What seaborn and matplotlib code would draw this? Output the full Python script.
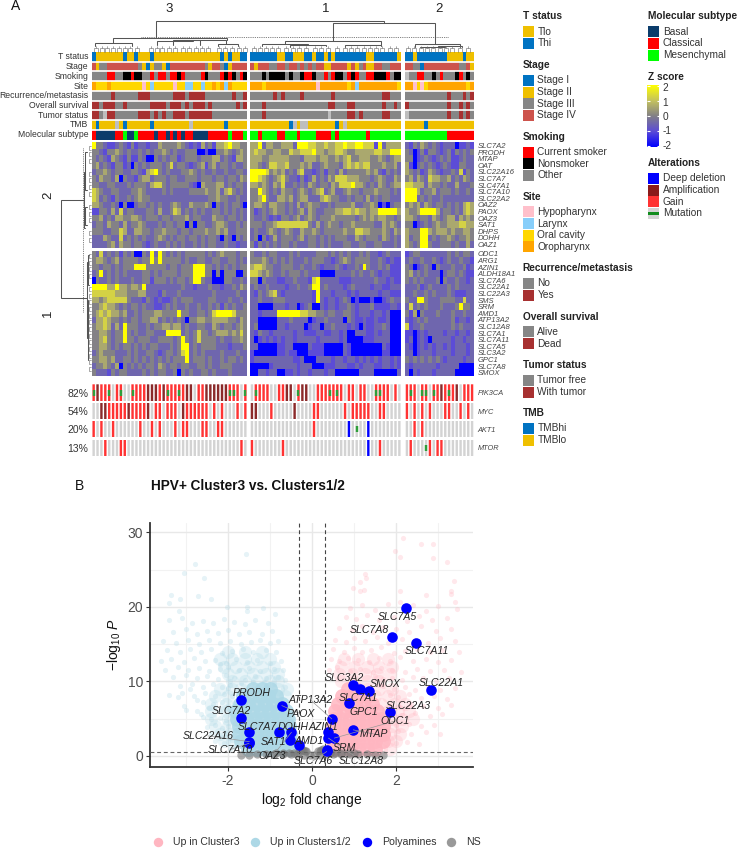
import numpy as np
import pandas as pd
import seaborn as sns
import matplotlib.pyplot as plt
from matplotlib.colors import LinearSegmentedColormap, ListedColormap
from matplotlib.patches import Rectangle

sns.set_style("white")
plt.rcParams["font.family"] = ["Liberation Sans", "DejaVu Sans"]
plt.rcParams["mathtext.fontset"] = "custom"
plt.rcParams["mathtext.rm"] = "Liberation Sans"
plt.rcParams["mathtext.it"] = "Liberation Sans:italic"
plt.rcParams["axes.unicode_minus"] = False

W, H = 739, 849

# Sample annotations, run length coded per cluster (3, 1, 2)
strip_names = ["T status", "Stage", "Smoking", "Site", "Recurrence/metastasis",
               "Overall survival", "Tumor status", "TMB", "Molecular subtype"]
t_status = ["h1 l7 h1 l2 h1 l3 h1 l17 h1 l1 h1 l2 h2",
            "h7 l2 h2 l3 h2 l1 h2 l1 h1 l1 h8 l2 h6 l1",
            "h2 l1 h8 l4 h1 l2"]
stage = ["D1 B1 C2 D8 C1 B1 A1 B1 C2 B1 A1 D9 C1 B1 D2 C1 A1 B1 D4",
         "D1 B1 D3 C2 D2 C1 D2 C1 D1 C1 D1 C1 D2 B2 D4 B1 D1 B1 C1 D1 B2 D2 C2 D3",
         "D2 C2 A1 D9 C2 D1 B1"]
smoking = ["o4 c2 o2 k2 c1 k2 o2 c1 o1 c2 o1 c2 k1 c1 o4 c1 k1 o3 c1 k1 c1 k1 o1 c1 k1",
           "o3 k1 o1 k4 o1 k1 o2 k1 c2 k1 o2 c1 o1 c1 k2 o1 c1 k1 c1 o2 c2 k3 c1 o1 k2",
           "u1 o2 c2 o2 k1 o1 c1 o3 k1 c1 o1 k1 o1"]
site = ["r1 g3 r1 g8 p1 g1 s1 g5 p1 g2 s2 g2 s1 g2 r1 g1 r1 s1 r1 g4",
        "r3 g1 r13 p1 r7 g1 r1 s1 r10 g1",
        "r2 p1 g1 p1 g1 r10 g1 r1"]
recurrence = ["n5 y1 n6 y3 n6 y3 n1 y4 n7 y1 n2 y1",
              "n6 y1 n1 y1 n4 y1 n7 y1 n12 y2 n3",
              "n11 y1 n3 y1 n1 y1"]
survival = ["y2 n1 y3 n2 y1 n6 y4 n1 y3 n1 y1 n1 y3 n1 y1 n6 y1 n1 y1",
            "n3 y1 n16 y2 n3 y2 n7 y1 n2 y1 n1",
            "y1 n10 y1 n2 y1 n1 y1 n1"]
tumor = ["y2 n1 u1 y2 n6 y3 n1 y1 n1 y1 n2 y3 n1 y6 n9",
         "n3 y1 n16 u1 n4 y2 n1 y1 n5 y2 n3",
         "u1 n10 y1 n2 y1 n1 y1 n1"]
tmb = ["l1 h1 l4 u1 l1 h1 l6 h1 l9 u1 l8 h1 l5",
       "l10 h1 u1 l1 u2 l7 h1 l1 u1 l14",
       "l5 h1 l12"]
subtype = ["c1 b5 c2 m1 b2 m1 c4 b1 c2 b1 c1 b1 c1 b1 c2 b4 c5 m1 c3 m1",
           "m2 c1 m4 c2 m3 c1 m4 c4 m1 c1 m7 c1 m8",
           "m11 c7"]
strips = [t_status, stage, smoking, site, recurrence, survival, tumor, tmb, subtype]

palette = {"l": "#EFC000", "h": "#0073C2", "A": "#0073C2", "B": "#EFC000", "C": "#868686",
           "D": "#CD534C", "c": "#FF0000", "k": "#000000", "o": "#868686", "p": "#FFC0CB",
           "s": "#87CEFA", "g": "#FFD700", "r": "#FFA500", "n": "#868686", "y": "#A73030",
           "u": "#BEBEBE", "b": "#0B3C6B", "m": "#00FF00"}

# Expression, one character per sample: 0 blue ... 3 grey ... 6 yellow
z_levels = [-2, -1.0, -0.5, 0, 0.6, 1.25, 2]
upper_genes = ["SLC7A2", "PRODH", "MTAP", "OAT", "SLC22A16", "SLC7A7", "SLC47A1", "SLC7A10",
               "SLC22A2", "OAZ2", "PAOX", "OAZ3", "SAT1", "DHPS", "DOHH", "OAZ1"]
lower_genes = ["ODC1", "ARG1", "AZIN1", "ALDH18A1", "SLC7A6", "SLC22A1", "SLC22A3", "SMS", "SRM",
               "AMD1", "ATP13A2", "SLC12A8", "SLC7A1", "SLC7A11", "SLC7A5", "SLC3A2", "GPC1",
               "SLC7A8", "SMOX"]

c3_upper = ["6332112321 3122122433 3343212142 3144564433",
            "3321334323 2232323343 2322333001 0033432343",
            "3232143213 1132003232 3312333233 3442321443",
            "3423213312 0323233323 5233212341 3423323223",
            "2334323322 3321456323 2223343232 2322322332",
            "3243324032 2134423332 3322333233 3233233243",
            "3322332223 2333245532 3333321043 3344232332",
            "5432233222 3343222232 3222233334 3342453232",
            "5423213223 2343322222 2222222222 3343322322",
            "4432232030 0233232322 3432243334 3032323320",
            "1133242523 3222332422 3542323232 2332323232",
            "3342324433 4432333233 2333423322 2433233232",
            "2332433242 3343222323 3233030332 2344322323",
            "3332233542 2443323343 3323323334 3343422333",
            "2224322523 2323223432 3233233232 3320320323",
            "2222342433 2332123223 2323223232 3322322122"]
c1_upper = ["4462443344 4266655445 4455655665 551624444",
            "4544334433 5445556443 4455433444 445544666",
            "4443344444 3332444344 3343453344 433432344",
            "4432355445 3334342234 3332454545 533343342",
            "6666534342 3245221231 3324233333 434213232",
            "6654323453 2213124232 4355544433 323432243",
            "4434324352 2323243233 2435556443 232432344",
            "3364323243 3234323452 3422343323 334333232",
            "3346322443 4234422245 4332232332 423233222",
            "3443244332 3242343322 3233334223 343010233",
            "3123234332 3234243223 3344554544 344666664",
            "3223212133 2342343233 3433333234 343443323",
            "3332334555 5555532423 4332334333 332243432",
            "2322343234 3224334323 3333433554 433343243",
            "2303124233 3234233232 3233322432 333243232",
            "3132323233 2322233232 3222332233 223322232"]
c2_upper = ["2132432321 22201121",
            "3201313321 23132323",
            "3301232123 23112322",
            "4102323212 32113322",
            "4323124321 22325132",
            "3424325443 34232432",
            "5544424332 32242223",
            "6664233423 33232232",
            "6662323223 22222222",
            "3434243233 23232454",
            "4334666642 33232454",
            "4432332432 34424343",
            "3301232343 34445544",
            "4333664344 43433443",
            "4233662323 34323343",
            "4323663223 33232242"]
c3_lower = ["3252323132 3003262632 3232333332 3234333233",
            "3443234233 3323363633 3332322332 2332233232",
            "3323323233 3666333332 3323336663 3232323233",
            "2362323232 2223323233 3323336663 3030333003",
            "0322323222 3223313332 3233236632 2000332232",
            "6666446443 4436222222 2223221222 3221223243",
            "5555554443 3344222132 2232222222 2322222322",
            "4434555553 2221321211 2323332222 3322232232",
            "3345443232 3323221123 2322322322 3231323223",
            "3454544342 2323334433 3363322332 3566665333",
            "2445433232 3323344232 3232033443 3444433243",
            "3445424263 3322323344 3442322332 2432332343",
            "3344323363 2322332226 6662323533 2344434353",
            "3345323363 3233322333 3236323533 3323223343",
            "3344323233 2323233222 3236623233 3322212223",
            "2343332223 2322332123 3235623232 2223222322",
            "3344342233 2323232323 2333623332 3223233232",
            "2334324032 3232332432 3323322332 3223332222",
            "3222132332 2223232332 2303232233 2322232222"]
c1_lower = ["3223233222 3232222333 2323232232 322123222",
            "3334323232 3222323332 2123432333 322321211",
            "4554332233 3223223212 2232122326 322323111",
            "5543432232 3332322200 0022223232 232122111",
            "3303222112 2322215622 2221112222 223221211",
            "2322322221 2232236623 2222123222 212211222",
            "2132345212 2222221622 2122212122 222122111",
            "2232223332 2222221621 2212320100 010012322",
            "2200002221 2201230021 2212232122 231111221",
            "2212222666 6665544332 3322332122 212212000",
            "2200000222 3222201223 2222032112 112112000",
            "2300000221 2222012202 2322212102 112232000",
            "2132212222 2122111221 1221200222 112122000",
            "2012121212 2122222122 2221200001 112222000",
            "2200000112 2000021110 0000210000 000021000",
            "1000000112 1100011110 0000210000 000011000",
            "1222222222 2112000222 2122122121 212122121",
            "0000012222 2212220001 1122211212 221122121",
            "0022122001 1212212221 2200000022 220000002"]
c2_lower = ["1233222222 23232332",
            "2322322321 23223221",
            "3201232032 22322312",
            "3423232220 23323211",
            "3232322230 32232212",
            "2223123222 23232222",
            "2232232322 23211122",
            "3226632223 33322522",
            "2523232223 22236332",
            "3140322232 22322322",
            "2123232222 22312212",
            "5122322222 22323222",
            "1101212222 12212212",
            "1201210222 22122122",
            "2101212122 12122212",
            "2201222122 22122212",
            "3232323232 12222122",
            "2122222212 22220000",
            "2021222122 22200000"]

# Alterations: . none, g gain, a amplification, d deep deletion, m gain+mutation, n mutation
onco_genes = ["PIK3CA", "MYC", "AKT1", "MTOR"]
onco_pct = ["82%", "54%", "20%", "13%"]
pik3ca = ["maggm.gm..mgggaaagamggmgaa.ggaaaaaammg.m",
          ".mggg..ggaa.maa..gggmgmg.gg.gg..mmgg.g.",
          "gmg.mm.mgagmga.ggg"]
myc = ["..aagggggaggggа.gg.ggg.agggggg.g.g...g.g",
       "aa...g.....a....gg......g.ggggg..gg....",
       "g.g.g.g...gg..g.g."]
myc[0] = "..aagggggaggggа.gg.ggg.agggggg.g.g...g.g".replace("\u0430", "a")
akt1 = ["g.g..g......g..g.g...g.gg...gg..gg......",
        "................g........d.n..d........",
        "..g.g............."]
mtor = ["...g...gg.............................g.",
        "g.......g.....................d..g.....",
        ".g...ng.gg........"]
onco = [pik3ca, myc, akt1, mtor]

# Volcano: named polyamine genes with their values and where the label sits
poly_genes = ["SLC7A5", "SLC7A8", "SLC7A11", "SLC22A1", "SLC3A2", "SLC7A1", "SMOX", "GPC1", "SLC22A3",
              "ATP13A2", "MTAP", "AZIN1", "ODC1", "SLC12A8", "SRM", "PRODH", "SLC7A2", "PAOX", "SLC7A7",
              "SLC22A16", "DOHH", "OAZ3", "SAT1", "AMD1", "SLC7A10", "SLC7A6"]
poly_x = [2.23, 1.90, 2.48, 2.83, 0.98, 1.13, 1.36, 0.88, 1.85, 0.47, 0.98, 0.39, 0.53, 0.39, 0.35,
          -1.69, -1.70, -0.72, -1.49, -1.49, -0.79, -0.49, -0.52, -0.31, -1.50, 0.35]
poly_y = [19.8, 16.0, 15.1, 8.87, 9.5, 9.05, 8.74, 7.1, 5.87, 4.97, 3.5, 3.2, 2.4, 2.4, 0.8,
          7.5, 5.07, 6.76, 3.18, 1.92, 3.18, 3.18, 2.15, 1.48, 1.7, 0.6]
label_x = [2.02, 1.36, 2.73, 3.08, 0.76, 1.11, 1.75, 1.24, 2.29, -0.04, 1.46, 0.27, 1.98, 1.18, 0.77,
           -1.44, -1.92, -0.27, -1.31, -2.48, -0.45, -0.94, -0.92, -0.06, -1.95, 0.02]
label_y = [18.64, 16.84, 14.02, 9.85, 10.44, 7.84, 9.64, 5.87, 6.76, 7.53, 2.96, 3.86, 4.7, -0.67, 1.12,
           8.47, 6.01, 5.65, 3.94, 2.69, 3.94, 0.0, 1.88, 2.02, 0.85, -0.67]
linked_genes = ["ATP13A2", "ODC1", "MTAP", "SLC22A16", "SLC7A10", "OAZ3", "SLC7A6", "SLC12A8", "PAOX"]

# Volcano clouds
pink_dense_x = [.5, .7, .9, 1.1, 1.3, 1.5, .5, .7, .9, 1.1, 1.3, 1.5, 1.68, .5, .7, .9, 1.1, 1.3, 1.5, 1.7,
                .5, .7, .9, 1.1, 1.3, 1.5, 1.7, .52, .7, .9, 1.1, 1.3, 1.5, 1.65, .55, .75, .95, 1.15, 1.35, 1.55,
                .62, .82, 1.02, 1.22, 1.42, .72, .92, 1.12, 1.3, .85, 1.05]
pink_dense_y = [1, 1, 1, 1, 1, 1, 2, 2, 2, 2, 2, 2, 2, 3, 3, 3, 3, 3, 3, 3,
                4, 4, 4, 4, 4, 4, 4, 5, 5, 5, 5, 5, 5, 5, 6, 6, 6, 6, 6, 6,
                7, 7, 7, 7, 7, 8, 8, 8, 8, 9, 9]
blue_dense_x = [-.52, -.72, -.92, -1.12, -1.32, -1.52, -.52, -.72, -.92, -1.12, -1.32, -1.52, -1.68,
                -.53, -.73, -.93, -1.13, -1.33, -1.53, -1.73, -.55, -.75, -.95, -1.15, -1.35, -1.55, -1.75,
                -.58, -.78, -.98, -1.18, -1.38, -1.58, -1.78, -.62, -.82, -1.02, -1.22, -1.42, -1.62, -1.8,
                -.72, -.92, -1.12, -1.32, -1.52, -1.72, -.85, -1.05, -1.25, -1.45, -1.65, -1.0, -1.2, -1.4]
blue_dense_y = [1, 1, 1, 1, 1, 1, 2, 2, 2, 2, 2, 2, 2,
                3, 3, 3, 3, 3, 3, 3, 4, 4, 4, 4, 4, 4, 4,
                5, 5, 5, 5, 5, 5, 5, 6, 6, 6, 6, 6, 6, 6,
                7, 7, 7, 7, 7, 7, 8, 8, 8, 8, 8, 9, 9, 9]
blue_mid_x = [-1.9, -1.6, -1.3, -1.0, -.8, -2.0, -1.7, -1.4, -1.1, -.8, -2.1, -1.8, -1.5, -1.2, -.9,
              -2.2, -1.9, -1.6, -1.3, -1.0, -2.0, -1.6, -1.2, -2.2, -1.9, -1.7, -.8, -.6, -2.3, -2.0, -.65,
              -2.4, -2.05, -2.4, -2.05, -2.4, -2.0, -2.3, -2.0, -2.2, -1.95, -2.1, -1.9]
blue_mid_y = [10, 10, 10, 10, 10, 11, 11, 11, 11, 11, 12, 12, 12, 12, 12,
              13, 13, 13, 13, 13, 14, 14, 14, 9, 9, 9, 9, 9, 8, 8, 8,
              7, 7, 6, 6, 5, 5, 4, 4, 3, 3, 2, 2]
pink_mid_x = [.7, 1.0, 1.3, 1.6, .65, .95, 1.25, 1.55, 1.85, .7, 1.0, 1.3, 1.6, 1.9, .75, 1.1, 1.45, 1.8,
              1.3, 1.6, 1.9, 1.5, 1.8, 2.1, 1.65, 1.95, 2.2, 1.8, 2.05, 2.3, 1.9, 2.15, 2.4, 1.9, 2.15,
              1.85, 2.1, 1.8, 2.0, 1.65, 1.85]
pink_mid_y = [10, 10, 10, 10, 11, 11, 11, 11, 11, 12, 12, 12, 12, 12, 13, 13, 13, 13,
              9, 9, 9, 8, 8, 8, 7, 7, 7, 6, 6, 6, 5, 5, 5, 4, 4, 3, 3, 2, 2, 1, 1]
ns_x = [-1.7, -1.5, -1.3, -1.1, -.9, -.7, -.5, -.35, -.2, -.05, .05, .2, .35, .5, .7, .9, 1.1, 1.3, 1.5, 1.7,
        -.85, -.7, -.55, -.42, -.3, .3, .42, .55, .7, .85, 1.0, -.27, -.22, -.18, -.14, .14, .18, .22, .27]
ns_y = [.12, .15, .2, .2, .22, .25, .25, .2, .15, .08, .08, .15, .2, .25, .25, .22, .2, .2, .15, .12,
        .45, .45, .45, .45, .55, .55, .45, .45, .45, .45, .45, .95, .85, .72, .6, .6, .72, .85, 1.0]

blue_sparse_x = [-1.58, -2.79, -3.05, -2.56, -3.36, -3.14, -2.71, -2.41, -3.40, -3.17, -2.03, -1.55, -1.16, -.88, -1.55,
                 -3.4, -3.1, -2.85, -2.6, -2.35, -2.1, -1.85, -1.6, -1.35, -1.05, -3.3, -3.0, -2.75, -2.5, -2.25, -2.0, -1.75, -1.5, -1.2, -.95,
                 -3.55, -3.25, -2.95, -2.7, -2.45, -2.2, -1.95, -1.7, -1.45, -1.25, -1.0, -.8, -3.45, -3.15, -2.9, -2.65, -2.4, -2.15, -1.9, -1.65, -1.4, -1.1, -.85,
                 -3.6, -3.35, -3.05, -2.8, -2.55, -2.3, -2.05, -1.8, -1.55, -1.3, -1.0, -.75, -3.5, -3.2, -2.95, -2.7, -2.45, -2.2, -2.0, -1.75, -1.5, -1.25, -.9, -.7,
                 -3.3, -3.0, -2.75, -2.5, -2.25, -2.05, -1.85, -1.6, -1.35, -1.1, -.8, -.65, -3.15, -2.85, -2.6, -2.35, -2.15, -1.95, -1.7, -1.4, -1.15, -.9, -.65,
                 -3.4, -3.1, -2.8, -2.55, -2.3, -2.1, -1.9, -2.6, -2.35, -2.15, -2.0, -1.85, -3.0, -2.75, -2.45, -2.2, -2.05, -1.95, -2.6, -2.4, -2.2, -2.05, -2.5, -2.3, -2.15, -2.0,
                 -2.4, -2.2, -2.05, -2.3, -2.1, -1.9, -1.85, -1.95, -2.75, -2.9, -3.2, -3.05, -2.65, -1.9, -2.0, -1.95, -2.2]
blue_sparse_y = [27.1, 25.7, 24.6, 23.9, 21.6, 21.0, 21.4, 21.1, 20.5, 19.4, 20.0, 20.0, 19.9, 19.1, 19.5,
                 18.2, 18.5, 17.9, 18.1, 17.8, 18.4, 18.0, 17.7, 18.2, 17.8, 16.7, 17.0, 16.4, 16.8, 16.5, 16.9, 16.3, 16.7, 16.4, 16.8,
                 15.4, 15.2, 15.6, 15.0, 15.5, 15.1, 15.4, 15.0, 15.3, 15.6, 15.1, 15.4, 14.2, 13.9, 14.3, 14.0, 14.4, 13.8, 14.1, 14.3, 13.9, 14.2, 14.0,
                 12.8, 13.0, 12.6, 13.1, 12.7, 12.9, 12.5, 13.0, 12.6, 12.9, 12.5, 12.8, 11.6, 11.9, 11.5, 11.8, 11.4, 11.7, 12.0, 11.5, 11.8, 11.4, 11.7, 11.5,
                 10.6, 10.9, 10.4, 10.7, 10.3, 10.8, 10.5, 10.2, 10.7, 10.4, 10.6, 10.2, 9.4, 9.7, 9.3, 9.6, 9.2, 9.5, 9.8, 9.9, 9.9, 9.6, 9.2,
                 8.2, 8.5, 8.1, 8.4, 8.0, 8.3, 8.1, 7.2, 7.0, 7.3, 6.9, 7.1, 6.2, 6.0, 6.4, 6.1, 6.3, 5.9, 5.2, 4.9, 5.1, 4.8, 3.9, 4.1, 3.8, 4.0,
                 3.0, 2.8, 3.1, 2.0, 1.8, 2.1, 1.2, 1.0, 7.5, 9.0, 7.9, 6.7, 5.6, 5.3, 9.1, 10.1, 12.3]
pink_sparse_x = [2.16, 1.98, 2.6, 2.88, 2.1, 2.88, 3.2, 1.25, 1.29, 1.13, 3.38, .97, 1.24, 2.1, 1.13, 3.3, 2.7, 3.3, 3.4,
                 .9, 1.2, 1.5, 1.8, 2.1, 2.4, 2.7, 3.0, 3.45, .8, 1.05, 1.3, 1.6, 1.95, 2.25, 2.55, 2.85, 3.2,
                 .65, .95, 1.2, 1.45, 1.7, 2.0, 2.3, 2.6, 2.95, 3.3, .55, .8, 1.0, 1.25, 1.55, 1.8, 2.15, 2.45, 2.75, 3.05, 3.4,
                 .5, .75, 1.0, 1.2, 1.4, 1.65, 1.95, 2.2, 2.5, 2.8, 3.1, 3.5, .45, .65, .85, 1.1, 1.35, 1.6, 1.85, 2.1, 2.4, 2.7, 3.0, 3.3,
                 .4, .6, .9, 1.15, 1.45, 1.65, 1.9, 2.2, 2.5, 2.8, 3.15, 3.55, 1.5, 1.7, 1.9, 2.15, 2.4, 2.65, 2.95, 3.25,
                 1.7, 1.95, 2.2, 2.45, 2.75, 3.05, 3.4, 1.85, 2.05, 2.3, 2.6, 2.9, 3.2, 1.85, 2.1, 2.35, 2.65, 3.0, 3.3, 1.9, 2.15, 2.45, 2.8, 3.1,
                 1.8, 2.0, 2.3, 2.6, 2.9, 1.8, 2.05, 2.35, 2.7, 3.05, 1.75, 2.0, 2.25, 2.55]
pink_sparse_y = [29.3, 27.5, 28.4, 28.5, 26.7, 26.5, 26.0, 24.4, 23.9, 23.3, 23.5, 22.5, 22.3, 22.2, 22.1, 22.2, 21.6, 21.7, 20.6,
                 19.8, 20.2, 19.6, 20.4, 20.7, 20.3, 19.5, 20.1, 19.7, 18.7, 18.4, 18.9, 18.2, 18.6, 18.1, 18.8, 18.3, 18.5,
                 17.2, 16.9, 17.5, 16.7, 17.3, 17.0, 16.6, 17.4, 16.8, 17.1, 15.6, 15.3, 15.8, 15.4, 15.9, 15.2, 15.7, 15.5, 15.1, 15.8, 15.4,
                 14.3, 14.0, 14.5, 13.9, 14.2, 14.6, 13.8, 14.1, 14.4, 13.9, 14.2, 14.0, 13.0, 12.7, 13.2, 12.9, 12.6, 13.1, 12.8, 13.3, 12.7, 13.0, 12.6, 12.9,
                 11.6, 11.9, 11.4, 11.7, 11.3, 11.8, 11.5, 11.2, 11.7, 11.4, 11.6, 11.2, 10.7, 10.3, 10.5, 10.2, 10.6, 10.4, 10.1, 10.5,
                 9.4, 9.0, 9.3, 8.9, 9.2, 8.8, 9.1, 8.2, 7.9, 8.3, 7.8, 8.1, 7.7, 6.9, 6.6, 7.0, 6.7, 6.5, 6.8, 5.8, 5.5, 5.7, 5.4, 5.6,
                 4.4, 4.1, 4.3, 4.0, 4.2, 3.1, 3.3, 3.0, 3.2, 2.9, 2.0, 1.7, 1.9, 1.6]

# Top and left dendrograms in reference pixels: left, right, top, left foot, right foot
top_links = [(156, 384, 21, 38, 23), (333, 435, 23, 40.7, 43.7), (112.7, 226.7, 38.3, 43, 39.5),
             (95, 132, 43, 46, 46), (175, 226, 39.5, 41, 44), (157, 193, 41, 45, 40.5), (173, 200, 40, 45, 45),
             (285, 381, 40.7, 44, 45), (262, 308, 44, 46, 45), (290, 326, 45, 47, 46), (345, 381, 45, 47, 46),
             (415, 460, 43.7, 47, 47), (420, 445, 47, 47, 47), (438, 462, 46, 47, 47), (218, 238, 44, 46, 46)]
top_leaf_x = [94, 100, 105, 111, 117, 123, 128, 135, 149, 155, 160, 167, 173, 181, 187, 194, 200, 206, 217, 223,
              230, 237, 243, 252, 258, 264, 270, 276, 284, 291, 297, 304, 313, 319, 326, 335, 343, 349, 355, 362,
              368, 374, 380, 388, 394, 406, 412, 419, 425, 431, 438, 444, 450, 458, 466]
left_root = (200, 298, 60.7, 83.5, 87)
left_links = [(172, 228, 83.5, 85, 85), (152, 190, 85, 87, 87), (207, 225, 85, 87, 87),
              (262, 338, 87, 88, 87.5), (255, 285, 88, 89, 89), (300, 360, 87.5, 88, 88)]
left_leaf_y = [146, 152, 159, 172, 178, 185, 192, 205, 212, 218, 231, 238, 254, 261, 267, 274, 287, 294, 300,
               307, 314, 320, 327, 334, 340, 347, 354, 360, 367]

# Legends in reference pixels
legend_col1 = [("T status", 16, [("Tlo", 31.7, "#EFC000"), ("Thi", 43.3, "#0073C2")]),
               ("Stage", 64.7, [("Stage I", 80, "#0073C2"), ("Stage II", 92, "#EFC000"),
                                ("Stage III", 103.7, "#868686"), ("Stage IV", 115, "#CD534C")]),
               ("Smoking", 136.7, [("Current smoker", 152.3, "#FF0000"), ("Nonsmoker", 163.7, "#000000"),
                                   ("Other", 175, "#868686")]),
               ("Site", 196.7, [("Hypopharynx", 211.7, "#FFC0CB"), ("Larynx", 223.7, "#87CEFA"),
                                ("Oral cavity", 235, "#FFD700"), ("Oropharynx", 246.7, "#FFA500")]),
               ("Recurrence/metastasis", 268.3, [("No", 283.3, "#868686"), ("Yes", 295.3, "#A73030")]),
               ("Overall survival", 316.7, [("Alive", 331.7, "#868686"), ("Dead", 343.7, "#A73030")]),
               ("Tumor status", 365, [("Tumor free", 380, "#868686"), ("With tumor", 392, "#A73030")]),
               ("TMB", 413.3, [("TMBhi", 428.3, "#0073C2"), ("TMBlo", 440, "#EFC000")])]
legend_col2 = [("Molecular subtype", 16, [("Basal", 31.7, "#0B3C6B"), ("Classical", 43.3, "#FF0000"),
                                          ("Mesenchymal", 55, "#00FF00")]),
               ("Alterations", 163, [("Deep deletion", 178.3, "#0000FF"), ("Amplification", 190, "#8B1A1A"),
                                     ("Gain", 201.7, "#FF3333")])]
z_ticks = [2, 1, 0, -1, -2]
bottom_labels = ["Up in Cluster3", "Up in Clusters1/2", "Polyamines", "NS"]
bottom_colors = ["#FFB6C1", "#ADD8E6", "#0000FF", "#999999"]


def decode_runs(text):
    return [part[0] for part in text.split() for _ in range(int(part[1:]))]


def z_matrix(rows, genes, n):
    out = []
    for gene, row in zip(genes, rows):
        row = row.replace(" ", "")
        if len(row) != n:
            raise ValueError(f"{gene}: {len(row)} != {n}")
        out.append([z_levels[int(c)] for c in row])
    return pd.DataFrame(out, index=genes)


def px_axes(x0, y0, x1, y1):
    return fig.add_axes([x0 / W, 1 - y1 / H, (x1 - x0) / W, (y1 - y0) / H])


fig = plt.figure(figsize=(W / 100, H / 100), dpi=100)
text_col = "#333333"

clusters = [(91.7, 247.3, 40), (250, 401.3, 39), (405, 474, 18)]
z_cmap = LinearSegmentedColormap.from_list(
    "z", [(0, "#0000FF"), (0.25, "#5C4CD6"), (0.5, "#828086"), (0.75, "#C4C25E"), (1, "#FFFF00")])
letters = list(palette)
strip_cmap = ListedColormap([palette[k] for k in letters])
onco_fill = {".": "#D3D3D3", "g": "#FF3333", "m": "#FF3333", "a": "#8B2A2A", "d": "#0000FF", "n": "#D3D3D3"}

for i, (x0, x1, n) in enumerate(clusters):
    # annotation strips
    cells = []
    for name, row in zip(strip_names, strips):
        values = decode_runs(row[i])
        if len(values) != n:
            raise ValueError(f"{name} cluster {i}: {len(values)} != {n}")
        cells.append([letters.index(v) for v in values])
    ax = px_axes(x0, 52, x1, 139.5)
    sns.heatmap(pd.DataFrame(cells, index=strip_names), ax=ax, cmap=strip_cmap, vmin=-0.5,
                vmax=len(letters) - 0.5, cbar=False, xticklabels=False,
                yticklabels=strip_names if i == 0 else False)
    ax.hlines(range(1, 9), 0, n, color="white", lw=1.2)
    ax.tick_params(axis="y", length=0, pad=2.5, labelsize=6.25, labelcolor=text_col, rotation=0)
    ax.set_xlabel("")
    ax.set_ylabel("")

    # expression heatmaps
    upper = z_matrix([c3_upper, c1_upper, c2_upper][i], upper_genes, n)
    lower = z_matrix([c3_lower, c1_lower, c2_lower][i], lower_genes, n)
    for df, y0, y1 in [(upper, 142.3, 247.7), (lower, 250.7, 376)]:
        ax = px_axes(x0, y0, x1, y1)
        sns.heatmap(df, ax=ax, cmap=z_cmap, vmin=-2, vmax=2, cbar=False, xticklabels=False,
                    yticklabels=list(df.index) if i == 2 else False)
        if i == 2:
            ax.yaxis.tick_right()
            ax.tick_params(axis="y", length=0, pad=2.5, labelsize=5.5, labelcolor="#444444", rotation=0)
            for t in ax.get_yticklabels():
                t.set_fontstyle("italic")
        ax.set_xlabel("")
        ax.set_ylabel("")

    # oncoprint
    onco_boxes = [(384.3, 401.3), (403, 419.3), (421, 437.3), (439.7, 456)]
    for g, (y0, y1) in enumerate(onco_boxes):
        row = onco[g][i]
        if len(row) != n:
            raise ValueError(f"{onco_genes[g]} cluster {i}: {len(row)} != {n}")
        ax = px_axes(x0, y0, x1, y1)
        ax.bar(np.arange(n) + 0.5, 1, width=0.62, color=[onco_fill[c] for c in row], linewidth=0, snap=False)
        muts = [k + 0.5 for k, c in enumerate(row) if c in "mn"]
        ax.vlines(muts, 0.33, 0.67, color="#2E9E3A", lw=1.75)
        ax.set_xlim(0, n)
        ax.set_ylim(0, 1)
        ax.set_xticks([])
        ax.set_yticks([])
        sns.despine(ax=ax, left=True, bottom=True)
        if i == 0:
            ax.set_yticks([0.5])
            ax.set_yticklabels([onco_pct[g]], fontsize=7.5, color=text_col)
            ax.tick_params(axis="y", length=0, pad=2.5)
        if i == 2:
            ax.yaxis.tick_right()
            ax.set_yticks([0.5])
            ax.set_yticklabels([onco_genes[g]], fontsize=5.3, color="#444444", style="italic")
            ax.tick_params(axis="y", length=0, pad=2.5)

# overlay in reference pixels for dendrograms, legends and panel letters
ov = fig.add_axes([0, 0, 1, 1], zorder=5)
ov.set_xlim(0, W)
ov.set_ylim(H, 0)
ov.axis("off")
ov.patch.set_alpha(0)

dendro = {"color": "#555555", "lw": 0.75, "solid_joinstyle": "miter"}
for left, right, top, foot_l, foot_r in top_links:
    ov.plot([left, left, right, right], [foot_l, top, top, foot_r], **dendro)
for x in top_leaf_x:
    ov.plot([x, x, x + 4, x + 4], [51.5, 47.5, 47.5, 51.5], color="#666666", lw=0.4)
    ov.plot([x + 2, x + 2], [47.5, 46], color="#666666", lw=0.4)
ov.plot([141, 447.7], [37, 37], color="#555555", lw=0.6, ls=(0, (1, 1.2)))

t0, t1, xr, xa, xb = left_root
ov.plot([xa, xr, xr, xb], [t0, t0, t1, t1], **dendro)
for top, bottom, base, foot_t, foot_b in left_links:
    ov.plot([foot_t, base, base, foot_b], [top, top, bottom, bottom], **dendro)
for y in left_leaf_y:
    ov.plot([90.5, 88.5, 88.5, 90.5], [y, y, y + 3.5, y + 3.5], color="#666666", lw=0.4)
ov.plot([83.3, 83.3], [148, 313], color="#555555", lw=0.6, ls=(0, (1, 1.2)))

ov.text(16, 6, "A", fontsize=10, ha="center", va="center", color="#111111")
ov.text(80, 486, "B", fontsize=10, ha="center", va="center", color="#111111")
for label, x in [("3", 169), ("1", 326), ("2", 439)]:
    ov.text(x, 9, label, fontsize=9.5, ha="center", va="center", color="#222222")
ov.text(48, 195, "2", fontsize=9.5, rotation=90, ha="center", va="center", color="#222222")
ov.text(48, 313, "1", fontsize=9.5, rotation=90, ha="center", va="center", color="#222222")


def draw_legend(col, box_x, text_x):
    for title, y, entries in col:
        ov.text(box_x, y, title, fontsize=7.3, fontweight="bold", va="center", color="#222222")
        for label, ey, color in entries:
            ov.add_patch(Rectangle((box_x, ey - 5.5), 11, 11, color=color, lw=0))
            ov.text(text_x, ey, label, fontsize=7.3, va="center", color=text_col)


draw_legend(legend_col1, 522.7, 537.3)
draw_legend(legend_col2, 648, 662.7)

# mutation key is a grey box with a green stripe
ov.add_patch(Rectangle((648, 207.8), 11, 11, color="#D3D3D3", lw=0))
ov.add_patch(Rectangle((648, 211.8), 11, 3, color="#128C1E", lw=0))
ov.text(662.7, 213.3, "Mutation", fontsize=7.3, va="center", color=text_col)

ov.text(648, 76.7, "Z score", fontsize=7.3, fontweight="bold", va="center", color="#222222")
cb = px_axes(647.3, 85, 659, 147)
cb.imshow(np.linspace(2, -2, 128)[:, None], cmap=z_cmap, vmin=-2, vmax=2, aspect="auto",
          extent=[0, 1, -2.1, 2.1])
cb.axis("off")
cb.hlines(z_ticks, 0, 0.2, color="white", lw=0.8)
cb.hlines(z_ticks, 0.8, 1, color="white", lw=0.8)
for tick in z_ticks:
    ov.text(662.5, 117 - tick * 14.4, str(tick), fontsize=7.3, va="center", color=text_col)

# Panel B volcano
vol = px_axes(150, 522.7, 473, 767)
vol.set_xlim(-3.857, 3.83)
vol.set_ylim(-1.48, 31.3)
vol.set_axisbelow(True)
vol.set_xticks([-2, 0, 2])
vol.set_xticks([-3, -1, 1, 3], minor=True)
vol.set_yticks([0, 10, 20, 30])
vol.set_yticks([5, 15, 25], minor=True)
vol.grid(True, which="major", color="#E8E8E8", lw=1.0)
vol.grid(True, which="minor", color="#F2F2F2", lw=0.8)

sns.scatterplot(x=blue_sparse_x, y=blue_sparse_y, ax=vol, color="#ADD8E6", s=14, alpha=0.3, linewidth=0)
sns.scatterplot(x=pink_sparse_x, y=pink_sparse_y, ax=vol, color="#FFB6C1", s=14, alpha=0.3, linewidth=0)
sns.scatterplot(x=blue_mid_x, y=blue_mid_y, ax=vol, color="#ADD8E6", s=90, alpha=0.28, linewidth=0)
sns.scatterplot(x=pink_mid_x, y=pink_mid_y, ax=vol, color="#FFB6C1", s=90, alpha=0.28, linewidth=0)
sns.scatterplot(x=blue_dense_x, y=blue_dense_y, ax=vol, color="#ADD8E6", s=115, alpha=0.85, linewidth=0)
sns.scatterplot(x=pink_dense_x, y=pink_dense_y, ax=vol, color="#FFB6C1", s=115, alpha=0.85, linewidth=0)
sns.scatterplot(x=ns_x, y=ns_y, ax=vol, color="#777777", s=36, alpha=0.6, linewidth=0)
sns.scatterplot(x=poly_x, y=poly_y, ax=vol, color="#0000FF", s=58, linewidth=0, zorder=4)

vol.axvline(-0.3, color="#444444", lw=0.8, ls=(0, (3.5, 2.5)), zorder=3)
vol.axvline(0.3, color="#444444", lw=0.8, ls=(0, (3.5, 2.5)), zorder=3)
vol.axhline(0.54, color="#666666", lw=0.8, ls=(0, (3.5, 2.5)), zorder=3)

for gene, px_, py_, lx, ly in zip(poly_genes, poly_x, poly_y, label_x, label_y):
    if gene in linked_genes:
        vol.plot([px_, lx], [py_, ly], color="#999999", lw=0.5, zorder=4)
    vol.text(lx, ly, gene, fontsize=7.6, style="italic", ha="center", va="center", color="#222222", zorder=5)

for side in ["top", "right"]:
    vol.spines[side].set_visible(False)
for side in ["left", "bottom"]:
    vol.spines[side].set_color("#333333")
    vol.spines[side].set_linewidth(1.3)
vol.tick_params(axis="both", which="major", labelsize=10, labelcolor="#4D4D4D", color="#333333",
                length=3, width=0.8, left=True, bottom=True, pad=2)
vol.tick_params(axis="both", which="minor", length=0)
vol.set_xlabel(r"log$_2$ fold change", fontsize=10, color="#111111", labelpad=2)
vol.set_ylabel(r"$-$log$_{10}$ $\mathit{P}$", fontsize=10, color="#111111", labelpad=3)

ov.text(150.7, 486, "HPV+ Cluster3 vs. Clusters1/2", fontsize=9.8, fontweight="bold", va="center", color="#111111")
for label, color, cx, tx in zip(bottom_labels, bottom_colors, [157.7, 255, 366.7, 451], [172.7, 270, 381.7, 466]):
    ov.scatter([cx], [842], s=46, color=color, linewidth=0)
    ov.text(tx, 842, label, fontsize=7.6, va="center", color=text_col)

fig.savefig("out.png", dpi=100)
